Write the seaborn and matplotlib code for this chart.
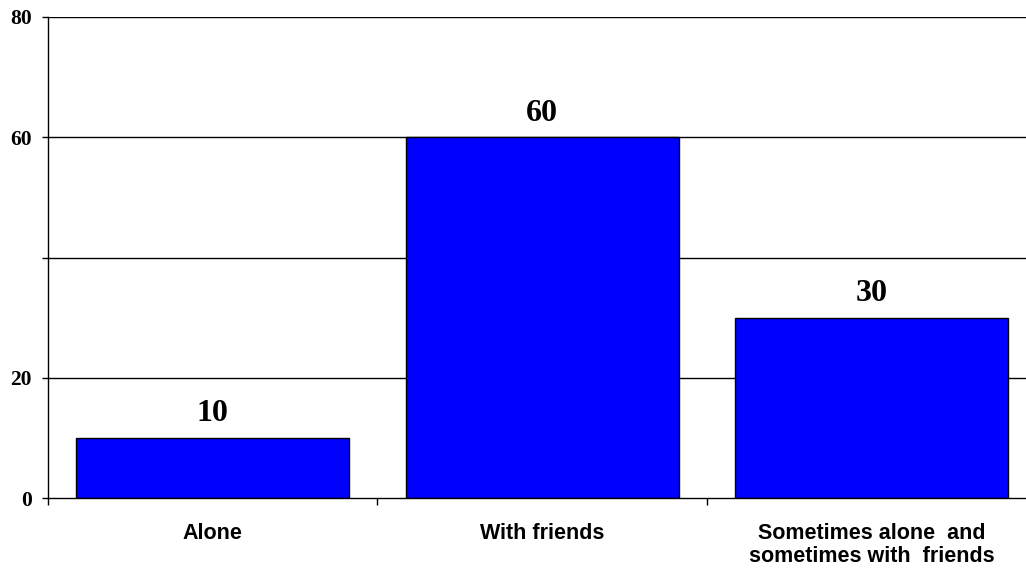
import matplotlib
matplotlib.use("Agg")
import matplotlib.pyplot as plt
import seaborn as sns
import pandas as pd
from matplotlib.ticker import FixedLocator

categories = ["Alone", "With friends", "Sometimes alone  and\nsometimes with  friends"]
values = [10, 60, 30]
ytick_values = [0, 20, 40, 60, 80]
ytick_labels = ["0", "20", "", "60", "80"]

sns.set_theme(style="white")
plt.rcParams["font.family"] = ["Liberation Sans", "DejaVu Sans"]

df = pd.DataFrame({"category": categories, "value": values})

fig = plt.figure(figsize=(10.26, 5.69), dpi=100)
ax = fig.add_axes([48 / 1026, 71 / 569, 988.5 / 1026, 481 / 569])

sns.barplot(data=df, x="category", y="value", color="#0000FF", saturation=1,
            width=0.83, edgecolor="black", linewidth=1.0, ax=ax, zorder=3)

ax.set_ylim(0, 80)
ax.set_xlim(-0.5, len(categories) - 0.5)
ax.set_xlabel("")
ax.set_ylabel("")

# horizontal gridlines
for yv in ytick_values[1:]:
    ax.axhline(yv, color="black", linewidth=1.0, zorder=1)

ax.set_yticks(ytick_values)
ax.set_yticklabels(ytick_labels, fontfamily="Liberation Serif",
                   fontweight="bold", fontsize=15.5, color="black")
ax.tick_params(axis="y", which="major", direction="out", length=4.5,
               width=1, color="black", left=True, pad=7)

# category boundaries carry the tick marks, labels sit at the centres
ax.xaxis.set_minor_locator(FixedLocator([i - 0.5 for i in range(len(categories) + 1)]))
ax.tick_params(axis="x", which="minor", direction="out", length=5,
               width=1, color="black", bottom=True)
ax.tick_params(axis="x", which="major", length=0, pad=18)
for lbl in ax.get_xticklabels():
    lbl.set_fontweight("bold")
    lbl.set_fontsize(15.5)
    lbl.set_color("black")
    lbl.set_linespacing(1.15)
    lbl.set_verticalalignment("top")

for side in ["top", "right"]:
    ax.spines[side].set_visible(False)
for side in ["left", "bottom"]:
    ax.spines[side].set_color("black")
    ax.spines[side].set_linewidth(1.0)
    ax.spines[side].set_zorder(4)

for i, v in enumerate(values):
    ax.annotate(f"{v}", xy=(i, v), xytext=(0, 7), textcoords="offset points",
                ha="center", va="bottom", fontsize=23, fontweight="bold",
                fontfamily="Liberation Serif", color="black")

fig.savefig("out.png", dpi=100, facecolor="white")
